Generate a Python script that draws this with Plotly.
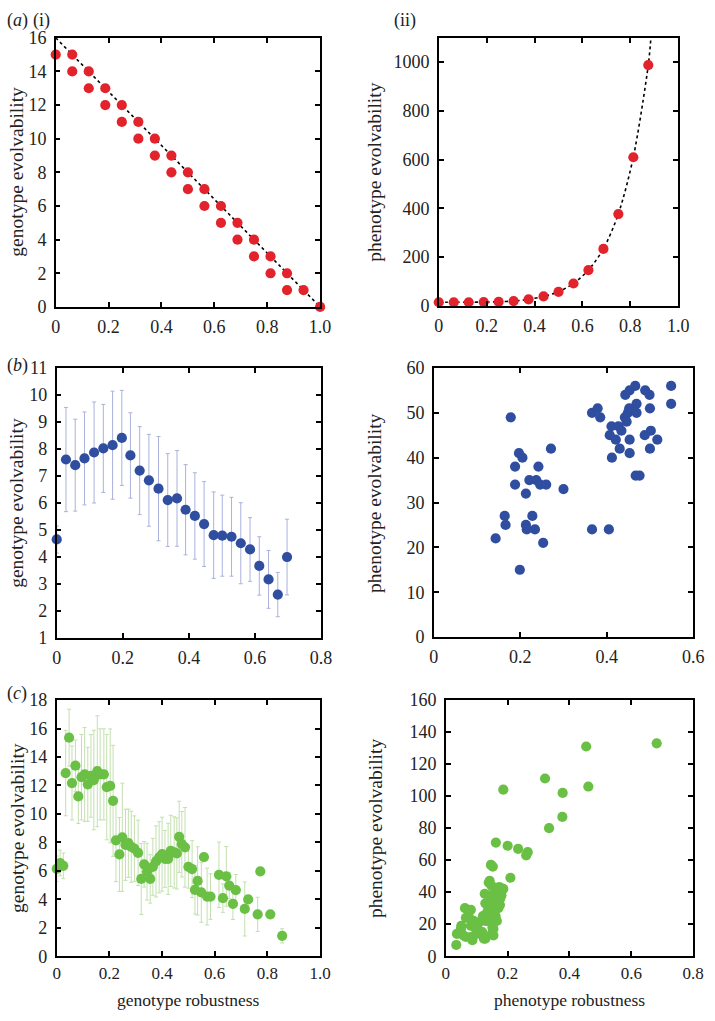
import plotly.graph_objects as go

# ---------------- data ----------------
# (a)(i) genotype robustness vs genotype evolvability (model)
ai_x = [0, 1/16, 1/16, 2/16, 2/16, 3/16, 3/16, 4/16, 4/16, 5/16, 5/16, 6/16, 6/16, 7/16, 7/16,
        8/16, 8/16, 9/16, 9/16, 10/16, 10/16, 11/16, 11/16, 12/16, 12/16, 13/16, 13/16, 14/16, 14/16, 15/16, 1.0]
ai_y = [15, 15, 14, 14, 13, 13, 12, 12, 11, 11, 10, 10, 9, 9, 8,
        8, 7, 7, 6, 6, 5, 5, 4, 4, 3, 3, 2, 2, 1, 1, 0]
ai_line_x = [0, 1]
ai_line_y = [16, 0]

# (a)(ii) phenotype robustness vs phenotype evolvability (model)
aii_x = [0, 1/16, 2/16, 3/16, 4/16, 5/16, 6/16, 7/16, 8/16, 9/16, 10/16, 11/16, 12/16, 13/16, 14/16]
aii_y = [15, 15, 15, 16, 17, 20, 27, 39, 58, 92, 147, 234, 377, 610, 988]
aii_curve_end_x = [0.886]
aii_curve_end_y = [1100]

# (b) left: genotype robustness bins, mean genotype evolvability, error
bl_x = [0.0, 0.028, 0.056, 0.084, 0.113, 0.141, 0.169, 0.197, 0.223, 0.251, 0.279, 0.308, 0.336,
        0.364, 0.390, 0.418, 0.446, 0.475, 0.501, 0.529, 0.557, 0.585, 0.613, 0.641, 0.669, 0.697]
bl_y = [4.65, 7.61, 7.40, 7.65, 7.87, 8.02, 8.14, 8.41, 7.76, 7.20, 6.84, 6.53, 6.11,
        6.17, 5.75, 5.52, 5.22, 4.81, 4.79, 4.75, 4.51, 4.28, 3.67, 3.17, 2.61, 4.00]
bl_err = [0.5, 1.93, 1.7, 1.72, 1.87, 1.63, 2.0, 1.76, 1.58, 1.63, 1.7, 1.93, 1.72,
          1.77, 1.67, 1.6, 1.57, 1.6, 1.5, 1.46, 1.5, 1.18, 1.08, 1.07, 0.82, 1.4]

# (b) right: phenotype robustness vs phenotype evolvability
br_x = [0.143, 0.199, 0.178, 0.164, 0.166, 0.188, 0.188, 0.197, 0.205, 0.213, 0.213, 0.215, 0.221,
        0.228, 0.234, 0.237, 0.242, 0.246, 0.253, 0.260, 0.271, 0.300, 0.366, 0.405, 0.366, 0.379,
        0.385, 0.407, 0.412, 0.411, 0.421, 0.427, 0.430, 0.434, 0.442, 0.443, 0.446, 0.449, 0.452,
        0.453, 0.453, 0.453, 0.466, 0.469, 0.469, 0.467, 0.476, 0.488, 0.489, 0.499, 0.500, 0.502,
        0.500, 0.517, 0.549, 0.549]
br_y = [22, 15, 49, 27, 25, 38, 34, 41, 40, 32, 25, 24, 35,
        27, 24, 35, 38, 34, 21, 34, 42, 33, 24, 24, 50, 51,
        49, 45, 40, 47, 44, 47, 42, 46, 49, 54, 48, 50, 51,
        55, 44, 41, 56, 52, 50, 36, 36, 45, 55, 54, 51, 46,
        42, 44, 56, 52]

# (c) left: genotype robustness vs genotype evolvability with error bars
cl_x = [0.0, 0.013, 0.025, 0.034, 0.047, 0.058, 0.071, 0.082, 0.094, 0.106, 0.118, 0.130, 0.141,
        0.154, 0.165, 0.179, 0.190, 0.203, 0.214, 0.225, 0.238, 0.249, 0.261, 0.272, 0.283, 0.295,
        0.309, 0.321, 0.332, 0.343, 0.355, 0.365, 0.377, 0.389, 0.400, 0.411, 0.423, 0.433, 0.446,
        0.456, 0.465, 0.475, 0.487, 0.500, 0.514, 0.525, 0.535, 0.549, 0.559, 0.571, 0.584, 0.616,
        0.631, 0.644, 0.655, 0.669, 0.680, 0.714, 0.727, 0.763, 0.773, 0.811, 0.856]
cl_y = [6.14, 6.55, 6.35, 12.87, 15.36, 12.17, 13.39, 11.23, 12.58, 12.78, 12.08, 12.67, 12.38,
        13.0, 12.78, 12.78, 11.88, 11.97, 10.92, 8.14, 7.15, 8.36, 7.83, 7.94, 7.69, 7.56,
        7.26, 5.43, 6.46, 5.94, 5.43, 6.28, 6.66, 6.95, 7.17, 6.84, 6.84, 7.40, 7.29,
        7.22, 8.39, 7.87, 7.65, 6.28, 6.12, 4.66, 5.29, 4.48, 6.97, 4.19, 4.19, 5.72,
        4.08, 5.61, 4.96, 3.68, 4.64, 3.32, 3.99, 2.94, 5.96, 2.94, 1.43]
cl_err = [0.9, 0.9, 0.9, 3.0, 2.0, 2.6, 1.8, 1.9, 3.0, 3.3, 2.6, 2.9, 3.5,
          3.9, 3.2, 3.2, 3.7, 4.0, 3.9, 2.9, 2.6, 3.8, 2.5, 2.4, 2.5, 2.3,
          2.3, 2.5, 1.6, 2.0, 1.7, 2.0, 2.5, 2.5, 2.6, 2.0, 2.5, 2.5, 2.5,
          2.5, 2.5, 2.3, 2.8, 1.5, 2.0, 1.7, 2.4, 2.1, 0.0, 2.0, 1.6, 2.3,
          1.0, 2.1, 0.9, 1.1, 1.1, 1.9, 0.0, 1.2, 0.0, 0.0, 0.5]

# (c) right: phenotype robustness vs phenotype evolvability
cr_x = [0.682, 0.454, 0.461, 0.321, 0.378, 0.377, 0.334, 0.186, 0.162, 0.200, 0.234, 0.265, 0.260,
        0.146, 0.152, 0.209,
        0.034, 0.036, 0.049, 0.050, 0.057, 0.062, 0.065, 0.065, 0.076, 0.081, 0.081, 0.081, 0.086,
        0.097, 0.102, 0.107, 0.107, 0.118, 0.123, 0.128, 0.128, 0.133, 0.126, 0.128, 0.135, 0.138,
        0.139, 0.142, 0.144, 0.144, 0.148, 0.149, 0.149, 0.149, 0.151, 0.154, 0.154, 0.160, 0.161,
        0.165, 0.171, 0.175, 0.175, 0.176, 0.180, 0.186, 0.170, 0.140, 0.155, 0.165, 0.120, 0.090,
        0.100]
cr_y = [133, 131, 106, 111, 102, 87, 80, 104, 71, 69, 67, 65, 63,
        57, 56, 49,
        7, 14, 17, 19, 13, 30, 24, 12, 24, 29, 19, 12, 10,
        17, 20, 21, 16, 15, 11, 11, 22, 27, 39, 33, 22, 30,
        46, 47, 34, 25, 44, 30, 34, 14, 18, 17, 13, 40, 25,
        36, 43, 32, 43, 36, 38, 42, 30, 38, 28, 22, 25, 22,
        14]

# ---------------- styling ----------------
W, H = 715, 1021
S = 0.98            # the captured picture appears ~2% smaller, centred; pre-compensate
CX, CY = W / 2, H / 2
FONT = "Liberation Serif"
RED = "#e3232b"
BLUE = "#2f4ea0"
BLUE_ERR = "#aab2dc"
GREEN = "#6abf45"
GREEN_ERR = "#c3e0ae"
MS = 10.2


def page_x(r):
    return CX + (r - CX) / S


def page_y(r):
    return CY + (r - CY) / S


def px(r):
    return min(max(page_x(r) / W, 0), 1)


def py(r):
    return min(max(1 - page_y(r) / H, 0), 1)


def xd(a, b):
    return [px(a), px(b)]


def yd(top, bottom):
    return [py(bottom), py(top)]


def xticks(vals, one_as_float=False):
    txt = []
    for v in vals:
        if v == 0:
            txt.append("0")
        elif one_as_float and v == 1:
            txt.append("1.0")
        else:
            txt.append(f"{v:g}")
    return dict(tickvals=vals, ticktext=txt)


fig = go.Figure()

# (a)(i)
fig.add_trace(go.Scatter(x=ai_line_x, y=ai_line_y, mode="lines",
                         line=dict(color="black", width=1.6, dash="dot"),
                         xaxis="x", yaxis="y", showlegend=False))
fig.add_trace(go.Scatter(x=ai_x, y=ai_y, mode="markers",
                         marker=dict(color=RED, size=MS), cliponaxis=False,
                         xaxis="x", yaxis="y", showlegend=False))
# (a)(ii)
fig.add_trace(go.Scatter(x=aii_x + aii_curve_end_x, y=aii_y + aii_curve_end_y, mode="lines",
                         line=dict(color="black", width=1.6, dash="dot", shape="spline", smoothing=0.8),
                         xaxis="x2", yaxis="y2", showlegend=False))
fig.add_trace(go.Scatter(x=aii_x, y=aii_y, mode="markers",
                         marker=dict(color=RED, size=MS), cliponaxis=False,
                         xaxis="x2", yaxis="y2", showlegend=False))
# (b) left
fig.add_trace(go.Scatter(x=bl_x, y=bl_y, mode="markers",
                         marker=dict(color=BLUE, size=MS), cliponaxis=False,
                         error_y=dict(type="data", array=bl_err, color=BLUE_ERR, thickness=1, width=2),
                         xaxis="x3", yaxis="y3", showlegend=False))
# (b) right
fig.add_trace(go.Scatter(x=br_x, y=br_y, mode="markers",
                         marker=dict(color=BLUE, size=MS), cliponaxis=False,
                         xaxis="x4", yaxis="y4", showlegend=False))
# (c) left
fig.add_trace(go.Scatter(x=cl_x, y=cl_y, mode="markers",
                         marker=dict(color=GREEN, size=MS), cliponaxis=False,
                         error_y=dict(type="data", array=cl_err, color=GREEN_ERR, thickness=1, width=2),
                         xaxis="x5", yaxis="y5", showlegend=False))
# (c) right
fig.add_trace(go.Scatter(x=cr_x, y=cr_y, mode="markers",
                         marker=dict(color=GREEN, size=MS), cliponaxis=False,
                         xaxis="x6", yaxis="y6", showlegend=False))

axis_common = dict(showline=True, linecolor="black", linewidth=1.5, mirror="ticks",
                   ticks="inside", ticklen=5, tickwidth=1.5, tickcolor="black",
                   showgrid=False, zeroline=False,
                   tickfont=dict(family=FONT, size=18, color="#222"))

C_BOTTOM = 956
panels = [
    ("xaxis", "yaxis", xd(58, 323), yd(38, 307), [0, 1], [0, 16],
     xticks([0, 0.2, 0.4, 0.6, 0.8, 1], True), list(range(0, 17, 2))),
    ("xaxis2", "yaxis2", xd(442, 682), yd(38, 306), [0, 1], [0, 1100],
     xticks([0, 0.2, 0.4, 0.6, 0.8, 1], True), list(range(0, 1001, 200))),
    ("xaxis3", "yaxis3", xd(59, 324), yd(368, 638), [0, 0.8], [1, 11],
     xticks([0, 0.2, 0.4, 0.6, 0.8]), list(range(1, 12))),
    ("xaxis4", "yaxis4", xd(437, 697), yd(368, 637), [0, 0.6], [0, 60],
     xticks([0, 0.2, 0.4, 0.6]), list(range(0, 61, 10))),
    ("xaxis5", "yaxis5", xd(59, 323), yd(700, C_BOTTOM), [0, 1], [0, 18],
     xticks([0, 0.2, 0.4, 0.6, 0.8, 1], True), list(range(0, 19, 2))),
    ("xaxis6", "yaxis6", xd(449, 697), yd(700, C_BOTTOM), [0, 0.8], [0, 160],
     xticks([0, 0.2, 0.4, 0.6, 0.8]), list(range(0, 161, 20))),
]

layout = dict(width=W, height=H, margin=dict(l=0, r=0, t=0, b=0),
              paper_bgcolor="white", plot_bgcolor="white",
              font=dict(family=FONT, color="#222"))
for i, (xk, yk, xdom, ydom, xr, yr, xt, yt) in enumerate(panels):
    anchor_x = "y" if i == 0 else f"y{i+1}"
    anchor_y = "x" if i == 0 else f"x{i+1}"
    xa = dict(axis_common, domain=xdom, range=xr, anchor=anchor_x,
              tickvals=xt["tickvals"], ticktext=xt["ticktext"],
              ticklabelstandoff=(1 if i >= 4 else 3))
    if i >= 4:
        xa["tickfont"] = dict(family=FONT, size=17, color="#222")
    layout[xk] = xa
    layout[yk] = dict(axis_common, domain=ydom, range=yr, anchor=anchor_y,
                      tickvals=yt, ticklabelstandoff=4)
fig.update_layout(**layout)

TF = dict(family=FONT, size=19.5, color="#222")
ann = []
# y titles: centre kept just inside the left edge so nothing is clipped
for x, y, t in [(19, 172, "genotype evolvability"), (378, 172, "phenotype evolvability"),
                (19, 503, "genotype evolvability"), (378, 503, "phenotype evolvability"),
                (19, 828, "genotype evolvability"), (378, 828, "phenotype evolvability")]:
    ann.append(dict(x=px(x), y=py(y), xref="paper", yref="paper", text=t, textangle=-90,
                    showarrow=False, font=TF, xanchor="center", yanchor="middle"))
# x titles, anchored to the bottom edge of the page
XF = dict(family=FONT, size=17.5, color="#222")
for x, t in [(191, "genotype robustness"), (573, "phenotype robustness")]:
    ann.append(dict(x=px(x), y=0, xref="paper", yref="paper", text=t, borderpad=0,
                    showarrow=False, font=XF, xanchor="center", yanchor="bottom"))
LF = dict(family=FONT, size=18, color="#222")
for x, y, t in [(7, 21, "(<i>a</i>)"), (33, 21, "(i)"), (395, 21, "(ii)"),
                (7, 366, "(<i>b</i>)"), (7, 693, "(<i>c</i>)")]:
    ann.append(dict(x=px(x), y=py(y), xref="paper", yref="paper", text=t,
                    showarrow=False, font=LF, xanchor="left", yanchor="middle"))
fig.update_layout(annotations=ann)

fig.write_html("out.html", config={"displayModeBar": False},
               post_script="document.body.style.margin='0';document.body.style.padding='0';"
                           "document.documentElement.style.overflow='hidden';")
